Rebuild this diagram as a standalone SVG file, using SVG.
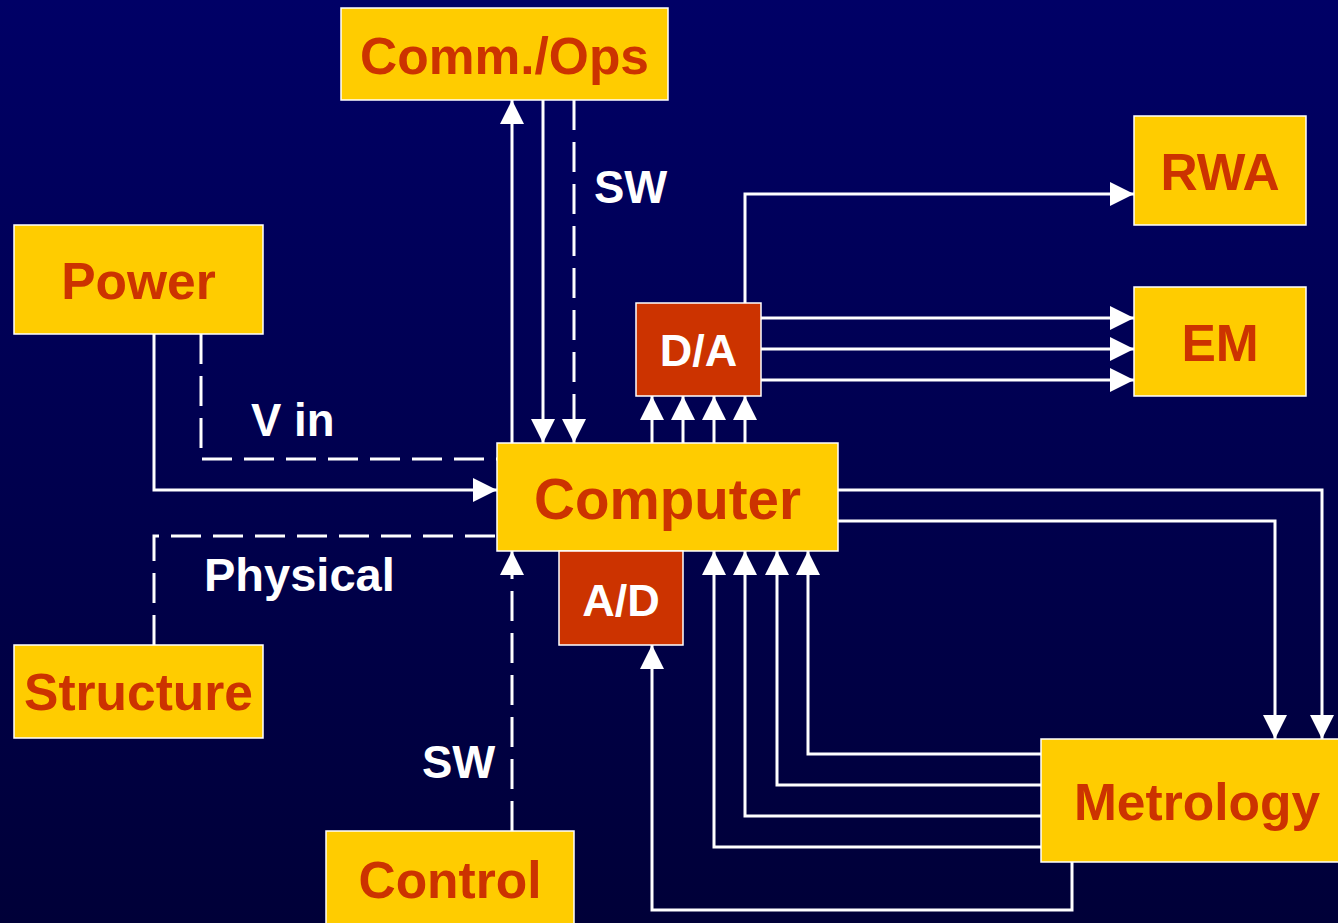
<svg xmlns="http://www.w3.org/2000/svg" width="1338" height="923" viewBox="0 0 1338 923">
<defs>
<linearGradient id="bg" x1="0" y1="0" x2="0" y2="1">
<stop offset="0" stop-color="#000066"/>
<stop offset="1" stop-color="#000038"/>
</linearGradient>
<marker id="ah" viewBox="0 0 24 24" refX="24" refY="12" markerWidth="24" markerHeight="24" markerUnits="userSpaceOnUse" orient="auto">
<path d="M0,0 L24,12 L0,24 Z" fill="#ffffff"/>
</marker>
<style>
.box{fill:#FFCC00;stroke:#ffffff;stroke-width:1.5}
.conv{fill:#CC3300;stroke:#ffffff;stroke-width:1.5}
.t{font-family:"Liberation Sans",Arial,sans-serif;font-weight:bold;fill:#CC3300;font-size:51.5px;text-anchor:middle}
.tw{font-family:"Liberation Sans",Arial,sans-serif;font-weight:bold;fill:#ffffff;font-size:45px;text-anchor:middle}
.lbl{font-family:"Liberation Sans",Arial,sans-serif;font-weight:bold;fill:#ffffff;font-size:45.5px}
.c{fill:none;stroke:#ffffff;stroke-width:3}
.d{fill:none;stroke:#ffffff;stroke-width:3;stroke-dasharray:30 12}
.a{marker-end:url(#ah)}
</style>
</defs>
<rect width="1338" height="923" fill="url(#bg)"/>
<g id="connectors">
<path class="c a" d="M512,443 V100"/>
<path class="c a" d="M543,100 V443"/>
<path class="d a" d="M574,100 V443"/>
<path class="c a" d="M652,443 V396"/>
<path class="c a" d="M683,443 V396"/>
<path class="c a" d="M714,443 V396"/>
<path class="c a" d="M745,443 V396"/>
<path class="c a" d="M745,303 V194 H1134"/>
<path class="c a" d="M761,318 H1134"/>
<path class="c a" d="M761,349 H1134"/>
<path class="c a" d="M761,380 H1134"/>
<path class="c a" d="M154,334 V490 H497"/>
<path class="d" d="M201,334 V459 H497"/>
<path class="d" d="M154,645 V536 H497"/>
<path class="d a" d="M512,831 V551"/>
<path class="c a" d="M838,490 H1322 V739"/>
<path class="c a" d="M838,521 H1275 V739"/>
<path class="c a" d="M1041,754 H808 V551"/>
<path class="c a" d="M1041,785 H777 V551"/>
<path class="c a" d="M1041,816 H745 V551"/>
<path class="c a" d="M1041,847 H714 V551"/>
<path class="c a" d="M1072,862 V910 H652 V645"/>
</g>
<g id="labels">
<text class="lbl" x="594" y="203">SW</text>
<text class="lbl" x="251" y="436">V in</text>
<text class="lbl" x="204" y="591" style="font-size:47px">Physical</text>
<text class="lbl" x="422" y="778">SW</text>
</g>
<g id="comm"><rect class="box" x="341" y="8" width="327" height="92"/><text class="t" x="504.5" y="74">Comm./Ops</text></g>
<g id="rwa"><rect class="box" x="1134" y="116" width="172" height="109"/><text class="t" x="1220" y="190">RWA</text></g>
<g id="em"><rect class="box" x="1134" y="287" width="172" height="109"/><text class="t" x="1220" y="361">EM</text></g>
<g id="power"><rect class="box" x="14" y="225" width="249" height="109"/><text class="t" x="138.5" y="299">Power</text></g>
<g id="da"><rect class="conv" x="636" y="303" width="125" height="93"/><text class="tw" x="698.5" y="366">D/A</text></g>
<g id="computer"><rect class="box" x="497" y="443" width="341" height="108"/><text class="t" x="667.5" y="519" style="font-size:56.5px">Computer</text></g>
<g id="ad"><rect class="conv" x="559" y="551" width="124" height="94"/><text class="tw" x="621" y="616">A/D</text></g>
<g id="structure"><rect class="box" x="14" y="645" width="249" height="93"/><text class="t" x="138.5" y="710">Structure</text></g>
<g id="metrology"><rect class="box" x="1041" y="739" width="305" height="123"/><text class="t" x="1197" y="820">Metrology</text></g>
<g id="control"><rect class="box" x="326" y="831" width="248" height="100"/><text class="t" x="450" y="898">Control</text></g>
</svg>
